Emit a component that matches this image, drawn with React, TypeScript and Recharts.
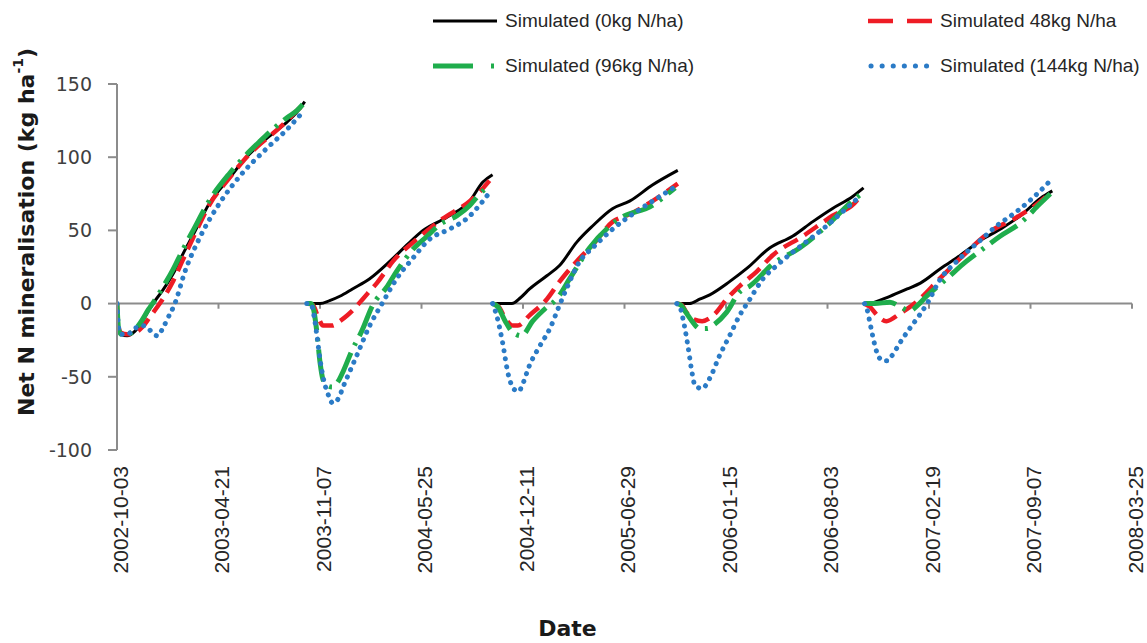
import React from 'react';
import { LineChart, Line, XAxis, YAxis, ReferenceLine, Legend, Label } from 'recharts';

// ---- data ----
// x = days since 2002-10-03; ticks every 200 days
const TICK_DAYS = [0, 200, 400, 600, 800, 1000, 1200, 1400, 1600, 1800, 2000];
const TICK_LABELS = [
  '2002-10-03', '2003-04-21', '2003-11-07', '2004-05-25', '2004-12-11', '2005-06-29',
  '2006-01-15', '2006-08-03', '2007-02-19', '2007-09-07', '2008-03-25',
];
const Y_TICKS = [-100, -50, 0, 50, 100, 150];

// season start (days since 2002-10-03)
const SEASON_STARTS = [0, 374, 740, 1103, 1473];

// each series: per season, [day within season, net N mineralisation kg/ha]
const N0: number[][][] = [
  [[0, 0], [3, -16], [8, -21], [20, -22], [35, -19], [50, -12], [62, -5], [71, 0], [90, 9], [110, 20], [130, 34], [150, 47], [183, 69], [222, 86], [250, 98], [282, 109], [310, 117], [335, 124], [355, 131], [370, 138]],
  [[0, 0], [26, 0], [45, 2], [65, 5], [90, 10], [124, 17], [164, 29], [200, 41], [229, 50], [276, 59], [321, 70], [347, 83], [366, 88]],
  [[0, 0], [38, 0], [55, 4], [73, 10], [107, 19], [132, 26], [166, 42], [197, 53], [237, 65], [270, 70], [315, 81], [365, 91]],
  [[0, 0], [25, 0], [45, 3], [65, 6], [104, 15], [138, 24], [183, 38], [228, 46], [268, 56], [307, 65], [346, 73], [368, 79]],
  [[0, 0], [4, 0], [50, 5], [84, 10], [110, 14], [150, 24], [189, 33], [228, 43], [268, 51], [307, 60], [347, 72], [370, 77]],
];
const N48: number[][][] = [
  [[0, 0], [3, -16], [8, -20], [20, -21], [35, -20], [50, -16], [65, -9], [80, -2], [90, 3], [110, 15], [130, 30], [150, 45], [183, 68], [222, 86], [250, 98], [282, 109], [310, 117], [335, 125], [355, 132], [365, 135]],
  [[0, 0], [12, -1], [22, -9], [32, -15], [50, -15], [65, -12], [80, -8], [95, -3], [105, 1], [120, 7], [138, 14], [170, 29], [217, 44], [268, 58], [321, 70], [345, 78], [360, 84]],
  [[0, 0], [12, -2], [25, -10], [40, -15], [50, -15], [73, -8], [107, 3], [132, 15], [166, 29], [197, 40], [237, 56], [270, 61], [315, 70], [365, 82]],
  [[0, 0], [10, -1], [19, -6], [35, -11], [50, -12], [75, -7], [98, 3], [124, 12], [158, 22], [189, 33], [248, 46], [307, 60], [354, 70], [362, 75]],
  [[0, 0], [10, -2], [25, -8], [43, -12], [69, -7], [102, 1], [148, 17], [189, 31], [247, 49], [300, 59], [340, 68], [364, 75]],
];
const N96: number[][][] = [
  [[0, 0], [3, -17], [8, -21], [20, -21], [35, -18], [50, -11], [62, -4], [70, 0], [90, 11], [110, 23], [130, 37], [150, 50], [183, 71], [222, 89], [250, 100], [282, 111], [310, 120], [335, 127], [355, 132], [366, 136]],
  [[0, 0], [8, 0], [14, -5], [20, -20], [26, -40], [32, -52], [40, -56], [50, -57], [62, -53], [72, -46], [89, -32], [108, -19], [130, -1], [157, 11], [177, 22], [209, 37], [237, 46], [262, 54], [296, 60], [321, 67], [341, 75], [350, 78]],
  [[0, 0], [10, -2], [25, -12], [38, -19], [57, -22], [79, -12], [105, -3], [126, 3], [152, 17], [191, 38], [250, 58], [315, 67], [349, 76], [360, 79]],
  [[0, 0], [8, -1], [18, -6], [30, -12], [45, -17], [60, -17], [75, -14], [98, -6], [124, 8], [144, 12], [189, 27], [242, 38], [295, 53], [346, 70], [360, 74]],
  [[0, 0], [20, 0], [50, 1], [70, -2], [89, -5], [105, -1], [122, 5], [162, 17], [194, 27], [228, 36], [267, 46], [307, 55], [345, 68], [366, 75]],
];
const N144: number[][][] = [
  [[0, 0], [3, -16], [8, -21], [20, -21], [35, -17], [50, -15], [62, -17], [72, -21], [80, -22], [90, -17], [100, -10], [114, 0], [134, 22], [163, 45], [203, 69], [242, 87], [295, 106], [335, 119], [364, 130]],
  [[0, 0], [8, 0], [14, -8], [20, -22], [26, -38], [32, -50], [42, -62], [51, -68], [60, -66], [75, -54], [99, -35], [124, -15], [150, 1], [177, 17], [209, 31], [242, 44], [282, 51], [315, 58], [347, 70], [356, 74]],
  [[0, 0], [8, -8], [20, -27], [30, -47], [44, -59], [52, -60], [57, -57], [73, -42], [93, -29], [113, -17], [132, -1], [148, 12], [172, 29], [197, 38], [237, 51], [284, 63], [329, 73], [365, 81]],
  [[0, 0], [6, -2], [12, -10], [22, -29], [30, -47], [36, -56], [50, -58], [65, -51], [85, -35], [104, -22], [124, -8], [144, 3], [170, 17], [197, 26], [228, 35], [262, 44], [295, 53], [334, 65], [360, 73]],
  [[0, 0], [5, -4], [10, -12], [16, -22], [24, -33], [36, -39], [45, -39], [53, -36], [73, -25], [89, -17], [108, -8], [125, 1], [148, 16], [182, 29], [221, 41], [260, 53], [300, 63], [331, 72], [366, 84]],
];

const SERIES_NAMES = [
  'Simulated (0kg N/ha)',
  'Simulated 48kg N/ha',
  'Simulated (96kg N/ha)',
  'Simulated (144kg N/ha)',
];

// ---- build ----
type Pt = { day: number; v: number | null };
function build(seasons: number[][][]): Pt[] {
  const out: Pt[] = [];
  seasons.forEach((pts, i) => {
    const s = SEASON_STARTS[i];
    pts.forEach(([d, v]) => out.push({ day: s + d, v }));
    out.push({ day: s + pts[pts.length - 1][0] + 0.5, v: null });
  });
  return out;
}

const STYLES = [
  { color: '#000000', width: 3, dash: undefined as string | undefined, cap: 'butt', legendDash: undefined as string | undefined },
  { color: '#EE1C25', width: 4.5, dash: '16 8', cap: 'butt', legendDash: '25 14' },
  { color: '#1FAD4C', width: 5, dash: '32 8 3 8', cap: 'butt', legendDash: '40 18 3 18' },
  { color: '#2B7BC6', width: 5, dash: '0.1 8', cap: 'round', legendDash: '0.1 11' },
];

const SERIES = [N0, N48, N96, N144].map((d, i) => ({
  key: 's' + i,
  name: SERIES_NAMES[i],
  data: build(d),
  ...STYLES[i],
}));

const LEGEND_POS = [
  { x: 433, y: 21 },
  { x: 868, y: 21 },
  { x: 433, y: 66 },
  { x: 868, y: 66 },
];

const W = 1147;
const H = 643;
const AXIS_GREY = '#8c8c8c';

const renderLegend = () => (
  <div style={{ position: 'relative', width: W, height: 95 }}>
    {SERIES.map((s, i) => (
      <div
        key={s.key}
        style={{
          position: 'absolute',
          left: LEGEND_POS[i].x,
          top: LEGEND_POS[i].y - 14,
          height: 28,
          display: 'flex',
          alignItems: 'center',
          whiteSpace: 'nowrap',
        }}
      >
        <svg width={66} height={10} style={{ display: 'block' }}>
          <line
            x1={s.cap === 'round' ? 3 : 0}
            y1={5}
            x2={64}
            y2={5}
            stroke={s.color}
            strokeWidth={s.width}
            strokeDasharray={s.legendDash}
            strokeLinecap={s.cap as any}
          />
        </svg>
        <span
          style={{
            marginLeft: 6,
            fontFamily: '"Liberation Sans", Arial, sans-serif',
            fontSize: 19,
            color: '#262626',
          }}
        >
          {s.name}
        </span>
      </div>
    ))}
  </div>
);

const XTick = (props: any) => {
  const { x, y, payload } = props;
  const idx = TICK_DAYS.indexOf(payload.value);
  const label = idx >= 0 ? TICK_LABELS[idx] : '';
  const tx = x + 3;
  const ty = y + 16;
  return (
    <text
      x={tx}
      y={ty}
      dy="0.36em"
      transform={`rotate(-90 ${tx} ${ty})`}
      textAnchor="end"
      style={{ fontFamily: '"Liberation Sans", Arial, sans-serif', fontSize: 21, fill: '#262626' }}
    >
      {label}
    </text>
  );
};

const renderYTitle = (props: any) => {
  const vb = props.viewBox || { x: 0, y: 84, width: 117, height: 366 };
  const cx = vb.x + 26;
  const cy = vb.y + vb.height / 2 - 35;
  return (
    <text
      x={cx}
      y={cy}
      transform={`rotate(-90 ${cx} ${cy})`}
      textAnchor="middle"
      dominantBaseline="central"
      style={{ fontFamily: '"DejaVu Sans", Verdana, sans-serif', fontWeight: 'bold', fontSize: 22, fill: '#1a1a1a' }}
    >
      Net N mineralisation (kg ha
      <tspan dy={-8} fontSize={14}>-1</tspan>
      <tspan dy={8}>)</tspan>
    </text>
  );
};

const renderXTitle = (props: any) => {
  const vb = props.viewBox || { x: 117, y: 450, width: 1015, height: 193 };
  const cx = vb.x + vb.width / 2 - 57;
  const cy = vb.y + vb.height - 15;
  return (
    <text
      x={cx}
      y={cy}
      textAnchor="middle"
      dominantBaseline="central"
      style={{ fontFamily: '"DejaVu Sans", Verdana, sans-serif', fontWeight: 'bold', fontSize: 22, fill: '#1a1a1a' }}
    >
      Date
    </text>
  );
};

export default function App() {
  return (
    <div style={{ position: 'absolute', left: 0, top: 0, width: W, height: H, background: '#fff' }}>
      <LineChart width={W} height={H} margin={{ top: 84, right: 15, bottom: 0, left: 0 }}>
        <XAxis
          type="number"
          dataKey="day"
          domain={[0, 2000]}
          ticks={TICK_DAYS}
          interval={0}
          allowDataOverflow
          axisLine={false}
          tickLine={false}
          tickSize={0}
          tickMargin={0}
          height={193}
          tick={(p: any) => <XTick {...p} />}
        >
          <Label content={renderXTitle} />
        </XAxis>
        <YAxis
          type="number"
          domain={[-100, 150]}
          ticks={Y_TICKS}
          interval={0}
          allowDataOverflow
          width={117}
          axisLine={{ stroke: AXIS_GREY, strokeWidth: 2 }}
          tickLine={{ stroke: AXIS_GREY, strokeWidth: 2 }}
          tickSize={9}
          tickMargin={16}
          tick={{ fontFamily: '"DejaVu Sans", Verdana, sans-serif', fontSize: 19, fill: '#404040' }}
        >
          <Label content={renderYTitle} />
        </YAxis>
        <ReferenceLine y={0} stroke={AXIS_GREY} strokeWidth={2} />
        {TICK_DAYS.map((d) => (
          <ReferenceLine
            key={'t' + d}
            segment={[{ x: d, y: 0 }, { x: d, y: -3.5 }]}
            stroke={AXIS_GREY}
            strokeWidth={2}
          />
        ))}
        <Legend
          verticalAlign="middle"
          align="center"
          layout="horizontal"
          content={renderLegend}
          wrapperStyle={{ top: 0, left: 0, width: W, height: 95 }}
        />
        {SERIES.map((s) => (
          <Line
            key={s.key}
            data={s.data}
            dataKey="v"
            name={s.name}
            type="monotone"
            stroke={s.color}
            strokeWidth={s.width}
            strokeDasharray={s.dash}
            strokeLinecap={s.cap as any}
            dot={false}
            activeDot={false}
            connectNulls={false}
            isAnimationActive={false}
          />
        ))}
      </LineChart>
    </div>
  );
}
